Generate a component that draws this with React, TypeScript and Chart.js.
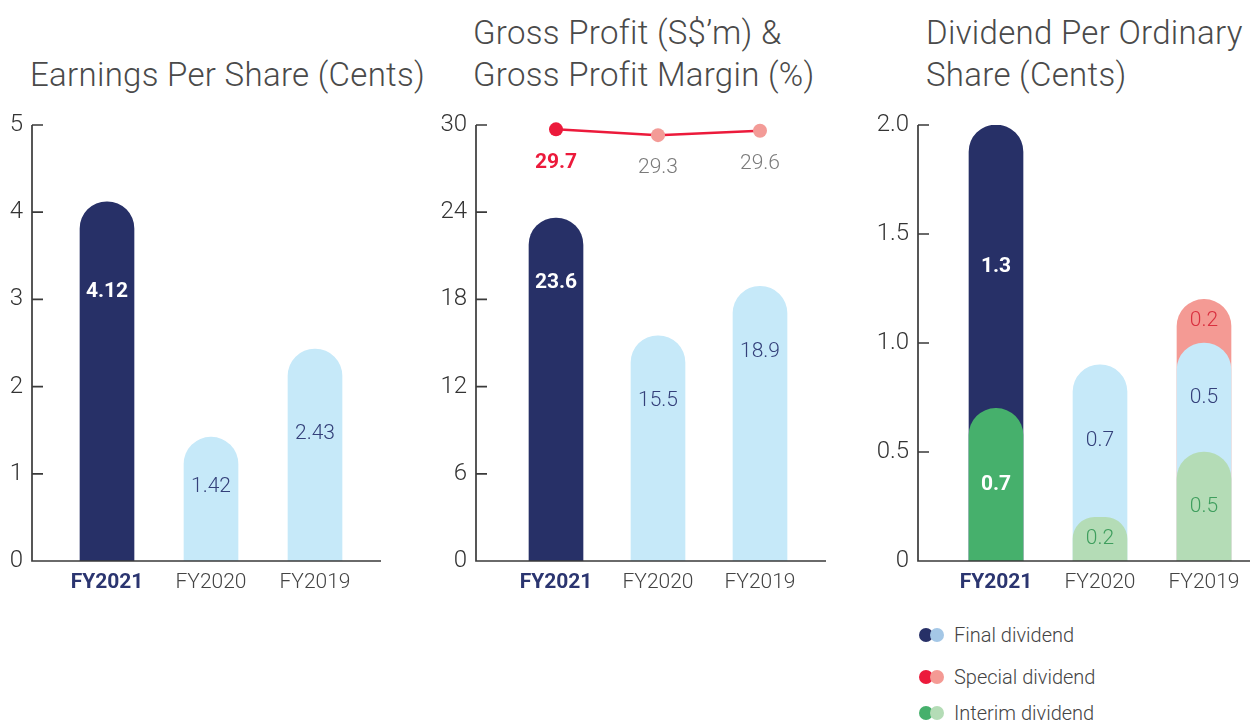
import React, { useEffect, useRef } from 'react';
import { Chart, registerables } from 'chart.js';

Chart.register(...registerables);

// ---------- data ----------
const categories = ['FY2021', 'FY2020', 'FY2019'];
const epsValues = [4.12, 1.42, 2.43];
const grossProfitValues = [23.6, 15.5, 18.9];
const grossMarginValues = [29.7, 29.3, 29.6];
const interimDividend = [0.7, 0.2, 0.5];
const finalDividend = [1.3, 0.7, 0.5];
const specialDividend = [0, 0, 0.2];
const epsAxis = { max: 5, step: 1 };
const gpAxis = { max: 30, step: 6 };
const divAxis = { max: 2, step: 0.5 };

// ---------- style ----------
const FONT = 'Roboto, "Noto Sans", "DejaVu Sans", sans-serif';
const NAVY = '#273067';
const LIGHT_BLUE = '#c6e9f9';
const GREEN = '#46b06c';
const LIGHT_GREEN = '#b4dcb6';
const RED = '#ec1a3b';
const PINK = '#f49a94';
const AXIS = '#3a3a3a';
const TEXT = '#444444';
const LABEL_NAVY = '#34407a';

type Geo = { width: number; height: number; yWidth: number; padRight: number; gap: number; lineExtra: number };

const axisPlugin = (geo: Geo) => ({
  id: 'customAxes',
  afterDatasetsDraw(chart: any) {
    const { ctx, chartArea } = chart;
    const y = chart.scales.y;
    const ax = chartArea.left - geo.gap;
    const y0 = y.getPixelForValue(0);
    const yTop = y.getPixelForValue(y.max);
    ctx.save();
    ctx.strokeStyle = AXIS;
    ctx.lineWidth = 1.7;
    ctx.beginPath();
    ctx.moveTo(ax, yTop);
    ctx.lineTo(ax, y0);
    ctx.lineTo(chartArea.right + geo.lineExtra, y0);
    y.ticks.forEach((t: any) => {
      const py = y.getPixelForValue(t.value);
      ctx.moveTo(ax, py);
      ctx.lineTo(ax + 11, py);
    });
    ctx.stroke();
    ctx.restore();
  },
});

const barLabelPlugin = (values: number[], fmt: (v: number) => string, offset: number) => ({
  id: 'barLabels',
  afterDatasetsDraw(chart: any) {
    const { ctx } = chart;
    const meta = chart.getDatasetMeta(0);
    ctx.save();
    ctx.textAlign = 'center';
    ctx.textBaseline = 'middle';
    meta.data.forEach((el: any, i: number) => {
      const h = el.base - el.y;
      const y = el.y + Math.min(offset, h * 0.4);
      ctx.font = i === 0 ? `bold 21px ${FONT}` : `300 21px ${FONT}`;
      ctx.fillStyle = i === 0 ? '#ffffff' : LABEL_NAVY;
      ctx.fillText(fmt(values[i]), el.x, y);
    });
    ctx.restore();
  },
});

const lineLabelPlugin = {
  id: 'lineLabels',
  afterDatasetsDraw(chart: any) {
    const { ctx } = chart;
    const meta = chart.getDatasetMeta(1);
    ctx.save();
    ctx.textAlign = 'center';
    ctx.textBaseline = 'middle';
    meta.data.forEach((el: any, i: number) => {
      ctx.font = i === 0 ? `bold 21px ${FONT}` : `300 21px ${FONT}`;
      ctx.fillStyle = i === 0 ? RED : '#7a7a7a';
      ctx.fillText(grossMarginValues[i].toFixed(1), el.x, el.y + 33);
    });
    ctx.restore();
  },
};

const segments = [
  { label: 'Interim dividend', values: interimDividend, dark: GREEN, light: LIGHT_GREEN, text: '#3f9e5e' },
  { label: 'Final dividend', values: finalDividend, dark: NAVY, light: LIGHT_BLUE, text: LABEL_NAVY },
  { label: 'Special dividend', values: specialDividend, dark: RED, light: PINK, text: '#d9303f' },
];
const cumulative = segments.map((_, k) =>
  categories.map((_, i) => segments.slice(0, k + 1).reduce((s, seg) => s + seg.values[i], 0))
);

const dividendLabelPlugin = {
  id: 'divLabels',
  afterDatasetsDraw(chart: any) {
    const { ctx } = chart;
    const y = chart.scales.y;
    ctx.save();
    ctx.textAlign = 'center';
    ctx.textBaseline = 'middle';
    segments.forEach((seg, k) => {
      const meta = chart.getDatasetMeta(k);
      categories.forEach((_, i) => {
        const v = seg.values[i];
        if (!v) return;
        const top = y.getPixelForValue(cumulative[k][i]);
        const bottom = y.getPixelForValue(k === 0 ? 0 : cumulative[k - 1][i]);
        ctx.font = i === 0 ? `bold 21px ${FONT}` : `300 21px ${FONT}`;
        ctx.fillStyle = i === 0 ? '#ffffff' : seg.text;
        ctx.fillText(v.toFixed(1), meta.data[i].x, (top + bottom) / 2);
      });
    });
    ctx.restore();
  },
};

const capRadius = { topLeft: 27, topRight: 27, bottomLeft: 0, bottomRight: 0 };

function baseOptions(geo: Geo, axis: { max: number; step: number }, tickFmt: (v: number) => string, stackedX = false): any {
  return {
    responsive: false,
    animation: false,
    layout: { padding: { top: 25, right: geo.padRight, left: 0, bottom: 0 } },
    plugins: { legend: { display: false }, tooltip: { enabled: false }, title: { display: false } },
    scales: {
      x: {
        type: 'category',
        stacked: stackedX,
        grid: { display: false, drawTicks: false },
        border: { display: false },
        ticks: {
          padding: 9,
          font: (c: any) => ({ family: FONT, size: 21, weight: c.index === 0 ? 'bold' : '300' }),
          color: (c: any) => (c.index === 0 ? '#2b3570' : TEXT),
        },
        afterFit: (s: any) => { s.height = 39; },
      },
      y: {
        min: 0,
        max: axis.max,
        stacked: false,
        grid: { display: false, drawTicks: false },
        border: { display: false },
        ticks: {
          stepSize: axis.step,
          padding: geo.gap + 9,
          font: { family: FONT, size: 24, weight: '300' },
          color: '#333333',
          callback: (v: any) => tickFmt(Number(v)),
        },
        afterFit: (s: any) => {
          s.width = geo.yWidth;
          s.paddingTop = 0;
          s.paddingBottom = 0;
        },
      },
    },
  };
}

const geo1: Geo = { width: 400, height: 500, yWidth: 55, padRight: 33, gap: 23, lineExtra: 14 };
const geo2: Geo = { width: 420, height: 500, yWidth: 85, padRight: 29, gap: 29, lineExtra: 15 };
const geo3: Geo = { width: 410, height: 500, yWidth: 94, padRight: 4, gap: 26, lineExtra: 10 };

function ChartCanvas({ left, geo, build }: { left: number; geo: Geo; build: () => any }) {
  const ref = useRef<HTMLCanvasElement>(null);
  useEffect(() => {
    if (!ref.current) return;
    const chart = new Chart(ref.current, build());
    return () => chart.destroy();
  }, []);
  return (
    <canvas
      ref={ref}
      width={geo.width}
      height={geo.height}
      style={{ position: 'absolute', left, top: 100, width: geo.width, height: geo.height }}
    />
  );
}

const buildEps = () => ({
  type: 'bar',
  data: {
    labels: categories,
    datasets: [
      {
        label: 'Earnings Per Share',
        data: epsValues,
        backgroundColor: [NAVY, LIGHT_BLUE, LIGHT_BLUE],
        barThickness: 54,
        borderRadius: capRadius,
        borderSkipped: false,
      },
    ],
  },
  options: baseOptions(geo1, epsAxis, (v) => String(v)),
  plugins: [axisPlugin(geo1), barLabelPlugin(epsValues, (v) => v.toFixed(2), 90)],
});

const buildGp = () => ({
  type: 'bar',
  data: {
    labels: categories,
    datasets: [
      {
        type: 'bar',
        label: 'Gross Profit',
        data: grossProfitValues,
        backgroundColor: [NAVY, LIGHT_BLUE, LIGHT_BLUE],
        barThickness: 54,
        borderRadius: capRadius,
        borderSkipped: false,
        order: 1,
      },
      {
        type: 'line',
        label: 'Gross Profit Margin',
        data: grossMarginValues,
        borderColor: RED,
        borderWidth: 2.5,
        pointRadius: 7,
        pointHoverRadius: 7,
        pointBorderWidth: 0,
        pointBackgroundColor: [RED, '#f39b97', '#f39b97'],
        tension: 0,
        clip: false,
        order: 0,
      },
    ],
  },
  options: baseOptions(geo2, gpAxis, (v) => String(v)),
  plugins: [axisPlugin(geo2), barLabelPlugin(grossProfitValues, (v) => v.toFixed(1), 65), lineLabelPlugin],
});

const buildDiv = () => ({
  type: 'bar',
  data: {
    labels: categories,
    datasets: segments.map((seg, k) => ({
      label: seg.label,
      data: cumulative[k].map((c, i) => (seg.values[i] > 0 ? c : null)),
      backgroundColor: [seg.dark, seg.light, seg.light],
      barThickness: 54,
      borderRadius: capRadius,
      borderSkipped: false,
      order: k,
    })),
  },
  options: baseOptions(geo3, divAxis, (v) => (v === 0 ? '0' : v.toFixed(1)), true),
  plugins: [axisPlugin(geo3), dividendLabelPlugin],
});

const titleStyle: React.CSSProperties = {
  position: 'absolute',
  fontFamily: FONT,
  fontWeight: 300,
  fontSize: 33,
  letterSpacing: 0.3,
  lineHeight: '42px',
  color: '#4a4a4a',
  whiteSpace: 'nowrap',
};

const legendItems = [
  { label: 'Final dividend', dark: NAVY, light: '#a4c7e6', top: 635 },
  { label: 'Special dividend', dark: RED, light: PINK, top: 677 },
  { label: 'Interim dividend', dark: GREEN, light: LIGHT_GREEN, top: 713 },
];

export default function App() {
  return (
    <div
      style={{
        position: 'absolute',
        left: 0,
        top: 0,
        width: 1250,
        height: 725,
        overflow: 'hidden',
        background: '#ffffff',
      }}
    >
      <div style={{ ...titleStyle, left: 30, top: 54 }}>Earnings Per Share (Cents)</div>
      <div style={{ ...titleStyle, left: 473, top: 12 }}>
        Gross Profit (S$’m) &amp;
        <br />
        Gross Profit Margin (%)
      </div>
      <div style={{ ...titleStyle, left: 926, top: 12 }}>
        Dividend Per Ordinary
        <br />
        Share (Cents)
      </div>

      <ChartCanvas left={0} geo={geo1} build={buildEps} />
      <ChartCanvas left={420} geo={geo2} build={buildGp} />
      <ChartCanvas left={850} geo={geo3} build={buildDiv} />

      {legendItems.map((it) => (
        <div
          key={it.label}
          style={{
            position: 'absolute',
            left: 919,
            top: it.top - 14,
            height: 28,
            display: 'flex',
            alignItems: 'center',
            fontFamily: FONT,
            fontWeight: 300,
            fontSize: 20,
            color: TEXT,
            whiteSpace: 'nowrap',
          }}
        >
          <span style={{ position: 'relative', width: 26, height: 14, display: 'inline-block', marginRight: 9 }}>
            <span style={{ position: 'absolute', left: 0, top: 0, width: 14, height: 14, borderRadius: 7, background: it.dark }} />
            <span style={{ position: 'absolute', left: 11, top: 0, width: 14, height: 14, borderRadius: 7, background: it.light }} />
          </span>
          {it.label}
        </div>
      ))}
    </div>
  );
}
